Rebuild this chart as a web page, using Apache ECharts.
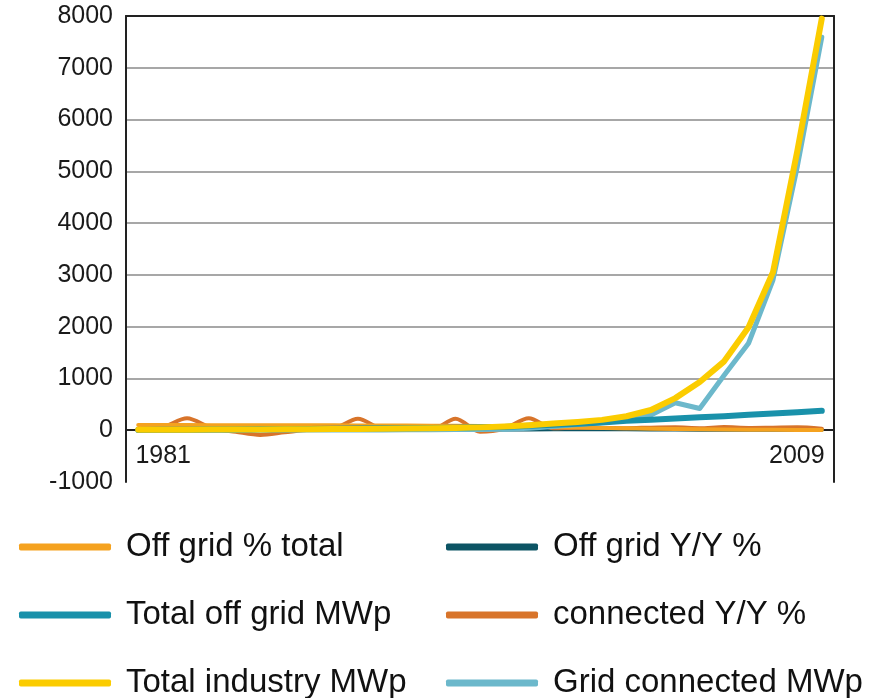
<!DOCTYPE html>
<html>
<head>
<meta charset="utf-8">
<script src="https://cdn.jsdelivr.net/npm/echarts@6/dist/echarts.min.js"></script>
<style>
  html, body { margin: 0; padding: 0; background: #fff; }
  #chart { width: 881px; height: 698px; }
</style>
</head>
<body>
<div id="chart"></div>
<script>
  var years = ['1981', '1982', '1983', '1984', '1985', '1986', '1987', '1988', '1989', '1990',
    '1991', '1992', '1993', '1994', '1995', '1996', '1997', '1998', '1999', '2000',
    '2001', '2002', '2003', '2004', '2005', '2006', '2007', '2008', '2009'];

  var offGridPct = [100, 100, 99, 98, 97, 96, 96, 95, 94, 93, 92, 90, 88, 85, 80, 74, 68, 60, 52, 44,
    36, 29, 23, 18, 14, 11, 8, 6, 5];
  var offGridYY = [30, 28, 25, 22, 20, 18, 18, 16, 15, 15, 14, 14, 13, 13, 12, 13, 15, 18, 20, 20,
    18, 14, 12, 10, 10, 9, 8, 8, 7];
  var totalOffGrid = [5, 7, 10, 12, 15, 18, 21, 25, 28, 32, 36, 40, 45, 50, 56, 64, 85, 105, 125, 150,
    185, 200, 225, 250, 272, 298, 322, 348, 375];
  var connectedYY = [20, 60, 230, 40, -30, -90, -40, 10, 30, 220, 30, 20, 10, 220, -30, 30, 230, 40, 50, 45,
    40, 50, 55, 40, 60, 45, 50, 55, 30];
  var totalIndustry = [7, 8, 9, 12, 14, 16, 18, 20, 23, 26, 30, 35, 40, 45, 55, 70, 95, 130, 160, 200,
    270, 390, 620, 930, 1330, 1990, 3050, 5400, 7950];
  var gridConnected = [0, 0, 1, 1, 1, 2, 2, 3, 4, 5, 6, 8, 10, 12, 15, 20, 40, 70, 110, 150,
    225, 295, 530, 420, 1060, 1680, 2900, 5100, 7590];

  var names = ['Off grid % total', 'Off grid Y/Y %', 'Total off grid MWp',
    'connected Y/Y %', 'Total industry MWp', 'Grid connected MWp'];
  var colors = {
    offGridPct: '#f5a21f',
    offGridYY: '#0c5464',
    totalOffGrid: '#1991aa',
    connectedYY: '#d8742a',
    totalIndustry: '#fbcc00',
    gridConnected: '#6cb8cb'
  };

  var font = "'Liberation Sans', Arial, sans-serif";
  var chart = echarts.init(document.getElementById('chart'));

  function line(name, data, color, width, smooth) {
    return {
      name: name,
      type: 'line',
      data: data,
      showSymbol: false,
      symbol: 'none',
      smooth: smooth || false,
      color: color,
      lineStyle: { color: color, width: width, cap: 'round', join: 'round' }
    };
  }

  var legendBase = {
    orient: 'vertical',
    top: 522,
    height: 180,
    itemWidth: 92,
    itemHeight: 7,
    itemGap: 28,
    icon: 'roundRect',
    textStyle: { fontFamily: font, fontSize: 33, lineHeight: 40, color: '#111', padding: [0, 0, 0, 10] }
  };

  var option = {
    backgroundColor: '#fff',
    animation: false,
    grid: { left: 126, right: 47, top: 16, bottom: 216 },
    legend: [
      Object.assign({}, legendBase, { left: 14, data: [names[0], names[2], names[4]] }),
      Object.assign({}, legendBase, { left: 441, data: [names[1], names[3], names[5]] })
    ],
    xAxis: [{
      type: 'category',
      data: years,
      boundaryGap: true,
      position: 'bottom',
      offset: -52,
      axisLine: { onZero: false, lineStyle: { color: '#222', width: 2 } },
      axisTick: { show: true, inside: true, length: 4, interval: 0, lineStyle: { color: '#222', width: 1.5 } },
      axisLabel: {
        interval: function (i) { return i === 0 || i === years.length - 1; },
        margin: 14,
        fontFamily: font,
        fontSize: 25,
        color: '#1a1a1a',
        formatter: function (v, i) {
          return i === 0 ? '{a|' + v + '}' : '{b|' + v + '}';
        },
        rich: {
          a: { fontFamily: font, fontSize: 25, color: '#1a1a1a', padding: [0, 0, 0, 50] },
          b: { fontFamily: font, fontSize: 25, color: '#1a1a1a', padding: [0, 50, 0, 0] }
        }
      },
      splitLine: { show: false }
    }, {
      type: 'category',
      data: years,
      position: 'top',
      axisLine: { onZero: false, lineStyle: { color: '#222', width: 2 } },
      axisTick: { show: false },
      axisLabel: { show: false },
      splitLine: { show: false }
    }],
    yAxis: [{
      type: 'value',
      min: -1000,
      max: 8000,
      interval: 1000,
      axisLine: { show: true, lineStyle: { color: '#222', width: 2 } },
      axisTick: { show: false },
      axisLabel: {
        margin: 13, fontFamily: font, fontSize: 25, color: '#1a1a1a',
        padding: [6, 0, 0, 0],
        formatter: function (v) { return String(v); }
      },
      splitLine: {
        show: true,
        lineStyle: {
          width: 1.5,
          color: ['rgba(0,0,0,0)', '#8a8a8a', '#8a8a8a', '#8a8a8a', '#8a8a8a', '#8a8a8a',
            '#8a8a8a', '#8a8a8a', '#8a8a8a', 'rgba(0,0,0,0)']
        }
      }
    }, {
      type: 'value',
      position: 'right',
      min: -1000,
      max: 8000,
      interval: 1000,
      axisLine: { show: true, lineStyle: { color: '#222', width: 2 } },
      axisTick: { show: false },
      axisLabel: { show: false },
      splitLine: { show: false }
    }],
    series: [
      line(names[1], offGridYY, colors.offGridYY, 4),
      line(names[3], connectedYY, colors.connectedYY, 4, 0.3),
      line(names[0], offGridPct, colors.offGridPct, 4),
      line(names[5], gridConnected, colors.gridConnected, 5),
      line(names[2], totalOffGrid, colors.totalOffGrid, 6),
      line(names[4], totalIndustry, colors.totalIndustry, 6)
    ]
  };

  chart.setOption(option);
</script>
</body>
</html>
